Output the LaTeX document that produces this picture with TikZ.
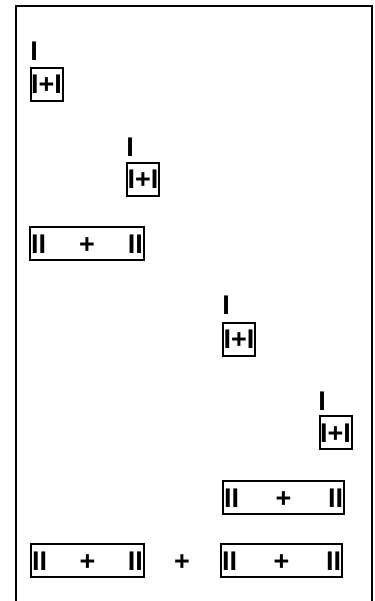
\documentclass[tikz,border=0pt]{standalone}
\usepackage{fontspec}
\setmainfont{Liberation Sans}
\begin{document}
\begin{tikzpicture}[x=1pt,y=-1pt,
  lbl/.style={inner sep=0pt,font=\fontsize{27}{29}\selectfont\bfseries},
  term/.style={lbl,anchor=base},
  boxed/.style={lbl,draw,line width=2pt,minimum height=33pt,
    text height=19pt,text depth=0pt},
  small/.style={boxed,minimum width=32pt},
  op/.style={lbl,text height=19pt,text depth=0pt}]
\useasboundingbox (0,0) rectangle (374,601);
% open frame
\draw[line width=2pt] (15.5,601) -- (15.5,6.5) -- (371.5,6.5) -- (371.5,601);

% single terms and their sums
\node[term] (t1) at (34,61) {I};
\node[small] (s1) at (46.5,84.5) {I+I};
\node[term] (t2) at (130,157) {I};
\node[small] (s2) at (143,179.5) {I+I};
\node[term] (t4) at (226,314) {I};
\node[small] (s4) at (239,339) {I+I};
\node[term] (t5) at (322,410) {I};
\node[small] (s5) at (335.5,432.5) {I+I};

% double sums
\node[boxed,minimum width=114pt] (d3) at (87,243.5)
  {\makebox[112pt]{II\hfill+\hfill II}};
\node[boxed,minimum width=121pt] (d6) at (283.5,497.5)
  {\makebox[119pt]{II\hfill+\hfill II}};
\node[boxed,minimum width=113pt] (d7a) at (87.5,560.5)
  {\makebox[111pt]{II\hfill+\hfill II}};
\node[op] (p7) at (182,560.5) {+};
\node[boxed,minimum width=121pt] (d7b) at (281.5,560.5)
  {\makebox[119pt]{II\hfill+\hfill II}};
\end{tikzpicture}
\end{document}
